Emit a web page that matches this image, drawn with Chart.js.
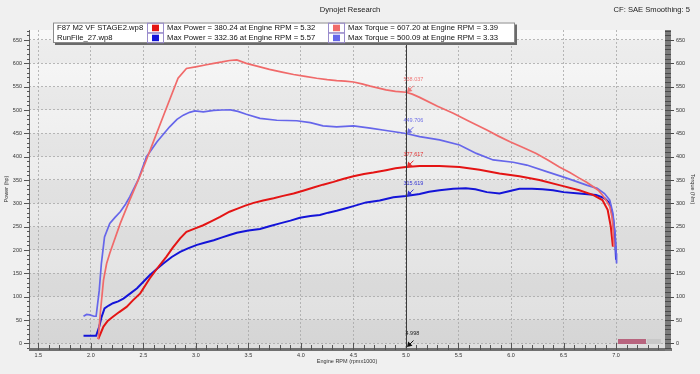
<!DOCTYPE html>
<html><head><meta charset="utf-8">
<script src="https://cdn.jsdelivr.net/npm/chart.js@4/dist/chart.umd.min.js"></script>
<style>html,body{margin:0;padding:0;background:#f0f0f0;overflow:hidden}</style>
</head><body>
<canvas id="c" width="700" height="374"></canvas>
<script>
// ---------- DATA ----------
const runNames = ['F87 M2 VF STAGE2.wp8', 'RunFile_27.wp8'];
const maxPowerText = ['Max Power = 380.24 at Engine RPM = 5.32', 'Max Power = 332.36 at Engine RPM = 5.57'];
const maxTorqueText = ['Max Torque = 607.20 at Engine RPM = 3.39', 'Max Torque = 500.09 at Engine RPM = 3.33'];

const xTicks = [1.5, 2.0, 2.5, 3.0, 3.5, 4.0, 4.5, 5.0, 5.5, 6.0, 6.5, 7.0];
const yTicks = [0, 50, 100, 150, 200, 250, 300, 350, 400, 450, 500, 550, 600, 650];

// Torque, F87 M2 VF STAGE2 (Nm)
const rpmTorqueA = [2.07,2.09,2.12,2.15,2.18,2.28,2.37,2.47,2.52,2.59,2.70,2.83,2.91,3.01,3.10,3.17,3.25,3.32,3.39,3.48,3.60,3.70,3.82,3.93,4.04,4.15,4.25,4.34,4.42,4.50,4.58,4.66,4.74,4.81,4.90,5.00,5.06,5.13,5.30,5.45,5.60,5.77,5.88,5.99,6.12,6.24,6.35,6.46,6.56,6.65,6.72,6.78,6.83,6.87,6.91,6.94,6.96,6.97,6.98];
const torqueA    = [9,65,135,171,193,257,307,360,388,429,493,568,589,593,597,600,603,606,607.2,600,593,587,581,576,572,568,565,563,562,560,556,551,547,543,540,538,534,527,508,493,476,457,444,432,419,407,393,378,366,354,345,336,328,318,305,293,272,250,207];

// Torque, RunFile_27 (Nm)
const rpmTorqueB = [1.93,1.96,1.99,2.03,2.05,2.08,2.10,2.13,2.18,2.23,2.28,2.33,2.37,2.45,2.53,2.63,2.75,2.82,2.88,2.94,2.99,3.07,3.17,3.25,3.33,3.40,3.48,3.61,3.77,3.96,4.09,4.21,4.34,4.50,4.66,4.81,5.00,5.13,5.32,5.51,5.67,5.83,6.02,6.15,6.34,6.53,6.72,6.82,6.89,6.94,6.97,6.99,7.00,7.005];
const torqueB    = [58,62,61,58,58,114,171,228,257,270,282,298,314,350,400,432,464,480,489,495,498,496,499,500,500.09,497,491,482,478,477,473,466,464,466,461,456,449.7,443,436,425,407,393,388,382,368,354,339,332,321,307,279,236,193,171];

// Power, F87 M2 VF STAGE2 (hp)
const rpmPowerA = [2.07,2.12,2.16,2.21,2.27,2.34,2.40,2.47,2.56,2.64,2.72,2.78,2.85,2.91,3.00,3.07,3.15,3.23,3.32,3.39,3.47,3.55,3.64,3.74,3.83,3.93,4.02,4.12,4.21,4.31,4.40,4.50,4.60,4.69,4.81,4.90,5.00,5.13,5.32,5.51,5.70,5.89,6.08,6.27,6.46,6.65,6.78,6.87,6.92,6.95,6.97];
const powerA    = [9,36,48,57,67,78,92,107,139,163,186,205,225,239,247,253,262,271,282,288,295,301,306,311,316,321,327,334,340,346,352,358,363,366,371,375,377.6,380,380.24,378,372,364,358,350,339,328,318,307,286,250,207];

// Power, RunFile_27 (hp)
const rpmPowerB = [1.93,2.05,2.08,2.10,2.13,2.17,2.21,2.26,2.31,2.37,2.44,2.50,2.56,2.63,2.69,2.77,2.85,2.93,3.01,3.09,3.17,3.25,3.32,3.39,3.50,3.61,3.70,3.80,3.90,3.99,4.09,4.18,4.26,4.34,4.42,4.50,4.62,4.75,4.88,5.00,5.13,5.22,5.32,5.45,5.57,5.66,5.77,5.89,5.98,6.08,6.20,6.30,6.40,6.50,6.65,6.81,6.89,6.94,6.97,6.99,7.00];
const powerB    = [16,16,36,55,75,81,86,90,96,106,118,132,146,160,171,185,196,204,211,216,221,227,232,237,242,245,251,257,263,269,273,275,280,284,289,294,302,306,313,315.6,320,325,328,331,332.36,330,324,321,326,331,331,330,328,324,321,318,311,300,271,229,179];

// Cursor readout
const cursorRpm = 4.998;
const cursorValues = [538.037, 449.706, 377.617, 315.619];
const cursorAxes = ['y1', 'y1', 'y', 'y'];

// ---------- STYLE ----------
const FONT = '"Liberation Sans", Arial, sans-serif';
const C_POWER_A = '#e41414', C_TORQUE_A = '#f06a6a', C_POWER_B = '#1414d8', C_TORQUE_B = '#6666ea';
const cursorColors = ['#f07878', '#6e6ee6', '#e43030', '#3434d4'];
const X_MIN = 1.411, X_MAX = 7.466, Y_MIN = -10, Y_MAX = 671.4;

function pts(xs, ys) { return xs.map((x, i) => ({ x: x, y: ys[i] })); }

function arrow(ctx, x, y, color) {
  ctx.fillStyle = color; ctx.strokeStyle = color; ctx.lineWidth = 1;
  ctx.beginPath(); ctx.moveTo(x, y); ctx.lineTo(x + 1.2, y - 5.5); ctx.lineTo(x + 5.5, y - 1.2); ctx.closePath(); ctx.fill();
  ctx.beginPath(); ctx.moveTo(x + 3, y - 3); ctx.lineTo(x + 6.5, y - 6.5); ctx.stroke();
}

const decor = {
  id: 'decor',
  beforeDraw(chart) {
    const { ctx, chartArea: a, scales: { y } } = chart;
    ctx.save();
    ctx.fillStyle = '#f0f0f0'; ctx.fillRect(0, 0, chart.width, chart.height);
    const g = ctx.createLinearGradient(0, a.top, 0, a.bottom);
    g.addColorStop(0, '#f8f8f8'); g.addColorStop(1, '#dedede');
    ctx.fillStyle = g; ctx.fillRect(a.left, a.top, a.right - a.left, a.bottom - a.top);
    ctx.fillStyle = 'rgba(0,0,0,0.04)';
    for (let i = 0; i < yTicks.length; i += 2) {
      const y0 = y.getPixelForValue(yTicks[i]), y1 = y.getPixelForValue(yTicks[i] + 50);
      ctx.fillRect(a.left, y1, a.right - a.left, y0 - y1);
    }
    ctx.restore();
  },
  afterDraw(chart) {
    const { ctx, chartArea: a, scales: { x, y, y1 } } = chart;
    ctx.save();
    // left axis
    ctx.strokeStyle = '#666'; ctx.lineWidth = 1;
    ctx.beginPath(); ctx.moveTo(a.left + 0.5, a.top); ctx.lineTo(a.left + 0.5, a.bottom + 3); ctx.stroke();
    ctx.strokeStyle = '#555';
    for (let v = -10; v <= 670; v += 10) {
      const py = Math.round(y.getPixelForValue(v)) + 0.5;
      const major = v % 50 === 0;
      ctx.beginPath(); ctx.moveTo(major ? a.left - 5 : a.left - 2, py); ctx.lineTo(a.left + 1, py); ctx.stroke();
    }
    // bottom band
    ctx.fillStyle = '#707070'; ctx.fillRect(a.left, a.bottom, a.right + 7 - a.left, 3);
    ctx.strokeStyle = '#555';
    for (let k = 14; k <= 74; k++) {
      const v = k / 10; const px = Math.round(x.getPixelForValue(v)) + 0.5;
      if (px < a.left || px > a.right) continue;
      const major = k % 5 === 0;
      ctx.beginPath(); ctx.moveTo(px, a.bottom + 2); ctx.lineTo(px, a.bottom - (major ? 5 : 3)); ctx.stroke();
    }
    // right band
    ctx.fillStyle = '#7c7c7c'; ctx.fillRect(a.right, a.top, 6, a.bottom + 3 - a.top);
    ctx.strokeStyle = '#4a4a4a';
    for (let v = -10; v <= 670; v += 10) {
      const py = Math.round(y1.getPixelForValue(v)) + 0.5;
      const major = v % 50 === 0;
      ctx.beginPath(); ctx.moveTo(a.right, py); ctx.lineTo(major ? a.right + 9 : a.right + 6, py); ctx.stroke();
    }
    // logo
    ctx.fillStyle = '#b8647e'; ctx.fillRect(618, a.bottom - 9, 28, 5);
    ctx.fillStyle = '#c8c8c8'; ctx.fillRect(647, a.bottom - 9, 14, 5);

    // cursor
    const cx = Math.round(x.getPixelForValue(cursorRpm)) + 0.5;
    ctx.strokeStyle = '#3a3a3a'; ctx.lineWidth = 1;
    ctx.beginPath(); ctx.moveTo(cx, a.top); ctx.lineTo(cx, a.bottom); ctx.stroke();
    ctx.font = '5.5px ' + FONT; ctx.textAlign = 'left'; ctx.textBaseline = 'middle';
    cursorValues.forEach((v, i) => {
      const sc = cursorAxes[i] === 'y1' ? y1 : y;
      const py = sc.getPixelForValue(v);
      arrow(ctx, cx + 0.5, py, cursorColors[i]);
      ctx.fillStyle = cursorColors[i];
      ctx.fillText(v.toFixed(3), cx - 3, py - 13);
    });
    arrow(ctx, cx + 0.5, a.bottom - 1, '#111');
    ctx.fillStyle = '#222'; ctx.fillText(cursorRpm.toFixed(3), cx - 1, a.bottom - 15);

    // titles
    ctx.fillStyle = '#222'; ctx.font = '7.6px ' + FONT; ctx.textBaseline = 'middle';
    ctx.textAlign = 'center'; ctx.fillText('Dynojet Research', 350, 10);
    ctx.textAlign = 'right'; ctx.fillText('CF: SAE Smoothing: 5', 690, 10);

    // legend box
    const L = 53, T = 22.5, W = 462, H = 20.5;
    ctx.fillStyle = '#6a6a6a'; ctx.fillRect(L + 2, T + 2, W, H);
    ctx.fillStyle = '#ffffff'; ctx.fillRect(L, T, W, H);
    ctx.strokeStyle = '#8a8a8a'; ctx.strokeRect(L + 0.5, T + 0.5, W - 1, H - 1);
    ctx.font = '7.7px ' + FONT; ctx.textAlign = 'left'; ctx.fillStyle = '#111';
    const rowY = [T + 5.2, T + 15.2];
    const sq1 = [C_POWER_A, C_POWER_B], sq2 = [C_TORQUE_A, C_TORQUE_B];
    for (let r = 0; r < 2; r++) {
      const cy = rowY[r];
      ctx.fillStyle = '#111';
      ctx.fillText(runNames[r], 57, cy);
      ctx.fillText(maxPowerText[r], 167, cy);
      ctx.fillText(maxTorqueText[r], 348, cy);
      ctx.strokeStyle = '#9a8ccc';
      ctx.strokeRect(147.5, cy - 4.5, 16, 9.5);
      ctx.strokeRect(328.5, cy - 4.5, 16, 9.5);
      ctx.fillStyle = sq1[r]; ctx.fillRect(152, cy - 3, 7, 6.5);
      ctx.fillStyle = sq2[r]; ctx.fillRect(333, cy - 3, 7, 6.5);
    }
    ctx.restore();
  }
};

const tickFont = { family: FONT, size: 5.5 };
new Chart(document.getElementById('c'), {
  type: 'scatter',
  data: {
    datasets: [
      { label: 'Torque ' + runNames[0], data: pts(rpmTorqueA, torqueA), yAxisID: 'y1', borderColor: C_TORQUE_A, backgroundColor: C_TORQUE_A, borderWidth: 1.7, showLine: true, pointRadius: 0, tension: 0 },
      { label: 'Torque ' + runNames[1], data: pts(rpmTorqueB, torqueB), yAxisID: 'y1', borderColor: C_TORQUE_B, backgroundColor: C_TORQUE_B, borderWidth: 1.7, showLine: true, pointRadius: 0, tension: 0 },
      { label: 'Power ' + runNames[0], data: pts(rpmPowerA, powerA), yAxisID: 'y', borderColor: C_POWER_A, backgroundColor: C_POWER_A, borderWidth: 2, showLine: true, pointRadius: 0, tension: 0 },
      { label: 'Power ' + runNames[1], data: pts(rpmPowerB, powerB), yAxisID: 'y', borderColor: C_POWER_B, backgroundColor: C_POWER_B, borderWidth: 2, showLine: true, pointRadius: 0, tension: 0 }
    ]
  },
  options: {
    responsive: false, animation: false, devicePixelRatio: 1,
    layout: { padding: { top: 30, left: 0, right: 0, bottom: 0 } },
    plugins: { legend: { display: false }, tooltip: { enabled: false }, title: { display: false } },
    scales: {
      x: {
        type: 'linear', position: 'bottom', min: X_MIN, max: X_MAX,
        afterBuildTicks: s => { s.ticks = xTicks.map(v => ({ value: v })); },
        afterFit: s => { s.height = 26; },
        ticks: { font: tickFont, color: '#333', padding: 4, maxRotation: 0, autoSkip: false, callback: v => Number(v).toFixed(1) },
        grid: { color: '#a8a8a8', lineWidth: 0.8, drawTicks: false },
        border: { display: false, dash: [2, 2] },
        title: { display: true, text: 'Engine RPM (rpmx1000)', font: tickFont, color: '#333', padding: { top: 0, bottom: 9 } }
      },
      y: {
        type: 'linear', position: 'left', min: Y_MIN, max: Y_MAX,
        afterBuildTicks: s => { s.ticks = yTicks.map(v => ({ value: v })); },
        afterFit: s => { s.width = 29; },
        ticks: { font: tickFont, color: '#333', padding: 7, autoSkip: false },
        grid: { color: '#a8a8a8', lineWidth: 0.8, drawTicks: false },
        border: { display: false, dash: [2, 2] },
        title: { display: true, text: 'Power (hp)', font: tickFont, color: '#333', padding: { top: 3, bottom: 0 } }
      },
      y1: {
        type: 'linear', position: 'right', min: Y_MIN, max: Y_MAX,
        afterBuildTicks: s => { s.ticks = yTicks.map(v => ({ value: v })); },
        afterFit: s => { s.width = 35; },
        ticks: { font: tickFont, color: '#333', padding: 11, autoSkip: false },
        grid: { display: false, drawTicks: false },
        border: { display: false },
        title: { display: true, text: 'Torque (Nm)', font: tickFont, color: '#333', padding: { top: 4, bottom: 0 } }
      }
    }
  },
  plugins: [decor]
});
</script>
</body></html>
